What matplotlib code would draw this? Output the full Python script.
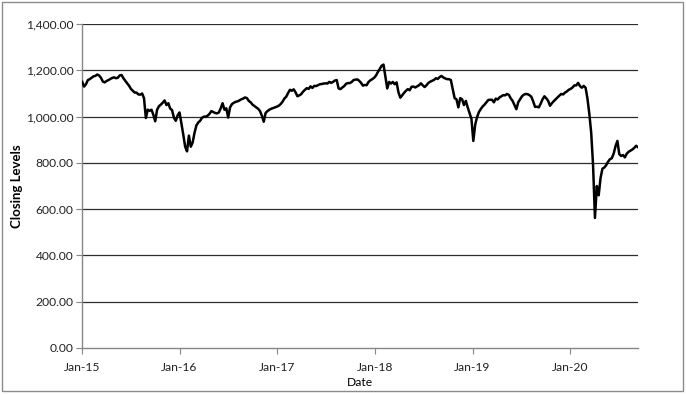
import pandas as pd
import matplotlib
matplotlib.use("Agg")
import matplotlib.pyplot as plt
import matplotlib.dates as mdates
from matplotlib.patches import Rectangle
from matplotlib.ticker import FuncFormatter

plt.rcParams['font.family'] = ['Lato', 'DejaVu Sans']

# weekly closing levels (first close 2 Jan 2015)
start_date = '2015-01-02'
closing = [
    1150, 1130, 1140, 1158, 1162, 1168, 1174, 1176, 1182, 1178,
    1168, 1152, 1148, 1154, 1158, 1163, 1167, 1170, 1166, 1168,
    1178, 1180, 1166, 1155, 1144, 1134, 1120, 1112, 1104, 1104,
    1096, 1095, 1100, 1080, 994, 1030, 1025, 1030, 1008, 980,
    1030, 1045, 1052, 1060, 1070, 1050, 1058, 1035, 1028, 995,
    982, 1006, 1018, 970, 922, 870, 850, 918, 870, 888,
    930, 962, 975, 982, 995, 1000, 1000, 1004, 1012, 1024,
    1020, 1016, 1014, 1018, 1036, 1058, 1030, 1036, 996, 1040,
    1054, 1060, 1064, 1066, 1070, 1075, 1078, 1083, 1080, 1068,
    1062, 1052, 1046, 1040, 1034, 1024, 1004, 978, 1016, 1024,
    1030, 1034, 1037, 1040, 1043, 1047, 1054, 1064, 1078, 1086,
    1102, 1116, 1112, 1118, 1105, 1088, 1092, 1097, 1108, 1116,
    1123, 1120, 1131, 1124, 1133, 1132, 1136, 1140, 1141, 1143,
    1144, 1143, 1150, 1146, 1150, 1156, 1158, 1122, 1119, 1126,
    1132, 1142, 1145, 1145, 1150, 1158, 1160, 1161, 1155, 1146,
    1134, 1137, 1136, 1150, 1157, 1162, 1168, 1178, 1193, 1206,
    1220, 1225, 1175, 1122, 1150, 1143, 1150, 1140, 1148, 1105,
    1082, 1092, 1103, 1112, 1119, 1114, 1129, 1130, 1126, 1131,
    1136, 1144, 1135, 1128, 1136, 1146, 1151, 1155, 1159, 1166,
    1163, 1171, 1176, 1169, 1165, 1162, 1162, 1158, 1118, 1080,
    1075, 1040, 1080, 1075, 1050, 1068, 1040, 1015, 990, 895,
    965, 998, 1020, 1033, 1044, 1052, 1062, 1072, 1073, 1073,
    1062, 1078, 1074, 1083, 1088, 1093, 1092, 1098, 1094, 1079,
    1068, 1050, 1032, 1062, 1075, 1088, 1095, 1098, 1097, 1093,
    1086, 1066, 1042, 1043, 1040, 1056, 1075, 1088, 1079, 1068,
    1047, 1058, 1067, 1075, 1083, 1091, 1098, 1096, 1104, 1109,
    1116, 1120, 1126, 1135, 1135, 1146, 1132, 1125, 1133, 1125,
    1078, 1012, 930, 790, 562, 700, 660, 735, 775, 780,
    790, 805, 816, 820, 840, 872, 895, 838, 830, 834,
    824, 840, 848, 853, 858, 865, 874, 868,
]
y_ticks = [0, 200, 400, 600, 800, 1000, 1200, 1400]
x_ticks = ['2015-01-01', '2016-01-01', '2017-01-01',
           '2018-01-01', '2019-01-01', '2020-01-01']

dates = pd.date_range(start_date, periods=len(closing), freq='7D')

fig = plt.figure(figsize=(6.86, 3.95), dpi=100)
ax = fig.add_axes([0.1195, 0.119, 0.8105, 0.820])

# gridlines (zero line is the axis itself)
for v in y_ticks[1:]:
    ax.axhline(v, color='#2e2e2e', linewidth=0.9, zorder=1)

ax.plot(dates, closing, color='black', linewidth=1.8, zorder=3)

ax.set_xlim(pd.Timestamp('2015-01-01'), dates[-1])
ax.set_ylim(0, 1400)
ax.set_yticks(y_ticks)
ax.yaxis.set_major_formatter(FuncFormatter(lambda v, p: f'{v:,.2f}'))
ax.set_xticks(pd.to_datetime(x_ticks))
ax.xaxis.set_major_formatter(mdates.DateFormatter('%b-%y'))

for s in ['top', 'right']:
    ax.spines[s].set_visible(False)
for s in ['left', 'bottom']:
    ax.spines[s].set_color('#868686')
    ax.spines[s].set_linewidth(1.0)

ax.tick_params(axis='both', direction='out', length=4, width=0.8,
               color='#868686', labelsize=8.7, labelcolor='#222222')
ax.tick_params(axis='y', pad=2)
ax.tick_params(axis='x', pad=6)

ax.set_ylabel('Closing Levels', fontsize=9.5, fontweight='bold', labelpad=2)
ax.set_xlabel('Date', fontsize=8.7, labelpad=3)

# outer chart border
fig.patches.append(Rectangle((0.0036, 0.009), 0.9913, 0.9848, transform=fig.transFigure,
                             fill=False, edgecolor='#8c8c8c', linewidth=1.0))

fig.savefig('out.png', dpi=100)
